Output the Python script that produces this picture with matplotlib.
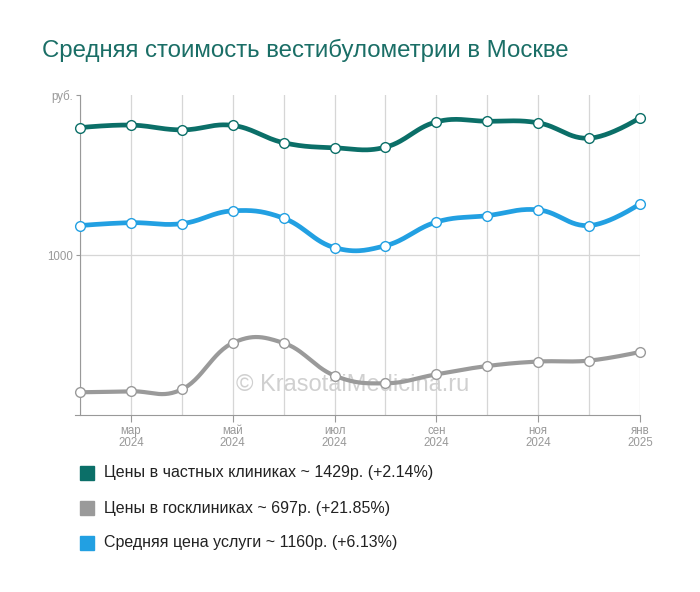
import numpy as np
import matplotlib
matplotlib.use("Agg")
import matplotlib.pyplot as plt

# Monthly values, Feb 2024 - Jan 2025
months = ["фев", "мар", "апр", "май", "июн", "июл",
          "авг", "сен", "окт", "ноя", "дек", "янв"]
years = ["2024"] * 11 + ["2025"]
private_prices = [1398, 1406, 1391, 1405, 1351, 1335, 1337, 1416, 1418, 1413, 1365, 1429]
gov_prices = [571, 574, 580, 725, 725, 623, 599, 627, 653, 667, 670, 697]
avg_prices = [1092, 1101, 1098, 1138, 1115, 1023, 1029, 1103, 1123, 1141, 1092, 1160]

legend_labels = [
    "Цены в частных клиниках ~ 1429р. (+2.14%)",
    "Цены в госклиниках ~ 697р. (+21.85%)",
    "Средняя цена услуги ~ 1160р. (+6.13%)",
]
TEAL = "#0b6f68"
GRAY = "#9a9a9a"
BLUE = "#22a0e2"


def spline(xs, ys, n=30):
    """Highcharts-like bezier spline through the points."""
    xs = np.asarray(xs, float)
    ys = np.asarray(ys, float)
    k = 1.5
    lx, ly = xs.copy(), ys.copy()
    rx, ry = xs.copy(), ys.copy()
    for i in range(1, len(xs) - 1):
        lx[i] = (k * xs[i] + xs[i - 1]) / (k + 1)
        ly[i] = (k * ys[i] + ys[i - 1]) / (k + 1)
        rx[i] = (k * xs[i] + xs[i + 1]) / (k + 1)
        ry[i] = (k * ys[i] + ys[i + 1]) / (k + 1)
        corr = (ry[i] - ly[i]) * (rx[i] - xs[i]) / (rx[i] - lx[i]) + ys[i] - ry[i]
        ly[i] += corr
        ry[i] += corr
    out_x, out_y = [], []
    t = np.linspace(0, 1, n)
    for i in range(len(xs) - 1):
        p = [(xs[i], ys[i]), (rx[i], ry[i]), (lx[i + 1], ly[i + 1]), (xs[i + 1], ys[i + 1])]
        bx = ((1 - t) ** 3 * p[0][0] + 3 * (1 - t) ** 2 * t * p[1][0]
              + 3 * (1 - t) * t ** 2 * p[2][0] + t ** 3 * p[3][0])
        by = ((1 - t) ** 3 * p[0][1] + 3 * (1 - t) ** 2 * t * p[1][1]
              + 3 * (1 - t) * t ** 2 * p[2][1] + t ** 3 * p[3][1])
        out_x.extend(bx)
        out_y.extend(by)
    return np.array(out_x), np.array(out_y)


plt.rcParams['font.family'] = ['Liberation Sans', 'DejaVu Sans']

fig = plt.figure(figsize=(7, 5.92), dpi=100)
ax = fig.add_axes([80 / 700, 1 - 415 / 592, 560 / 700, 320 / 592])

x = np.arange(len(months))
for i in x:
    ax.axvline(i, color="#d6d6d6", lw=0.9, zorder=0)
ax.axhline(1000, color="#d6d6d6", lw=0.9, zorder=0)

ax.text(0.486, 0.094, "© KrasotaiMedicina.ru", transform=ax.transAxes,
        fontsize=17, color="#d0d0d0", ha="center", va="center", zorder=1)

for vals, col, lw in [(private_prices, TEAL, 3.4), (avg_prices, BLUE, 3.4), (gov_prices, GRAY, 3.0)]:
    sx, sy = spline(x, vals)
    ax.plot(sx, sy, color=col, lw=lw, solid_capstyle="round", zorder=2, clip_on=False)
    ax.plot(x, vals, "o", ms=7, mfc="white", mec=col, mew=1.0, zorder=3, clip_on=False)

ax.set_xlim(0, 11)
ax.set_ylim(500, 1500)
for s in ["top", "right"]:
    ax.spines[s].set_visible(False)
ax.spines["left"].set_color("#999999")
ax.spines["bottom"].set_color("#999999")
ax.spines["bottom"].set_bounds(-0.1, 11)

ax.set_xticks(x[1::2])
ax.set_xticklabels([f"{months[i]}\n{years[i]}" for i in x[1::2]],
                   fontsize=8.3, color="#999999", linespacing=1.0)
ax.tick_params(axis="x", length=5, color="#999999", pad=2)
ax.set_yticks([1000, 1500])
ax.set_yticklabels(["1000", "руб."], fontsize=8.3, color="#999999")
ax.tick_params(axis="y", length=3, color="#999999", pad=2)

fig.text(42 / 700, 1 - 50 / 592, "Средняя стоимость вестибулометрии в Москве",
         fontsize=17.3, color="#1a6e66", va="center")

for k, (lab, col) in enumerate(zip(legend_labels, [TEAL, GRAY, BLUE])):
    yc = 473 + 35 * k
    fig.patches.append(plt.Rectangle((80 / 700, 1 - (yc + 7) / 592), 14 / 700, 14 / 592,
                                     transform=fig.transFigure, color=col,
                                     figure=fig))
    fig.text(104 / 700, 1 - yc / 592, lab, fontsize=11.5, color="#222222", va="center")

fig.savefig("out.png", dpi=100)
